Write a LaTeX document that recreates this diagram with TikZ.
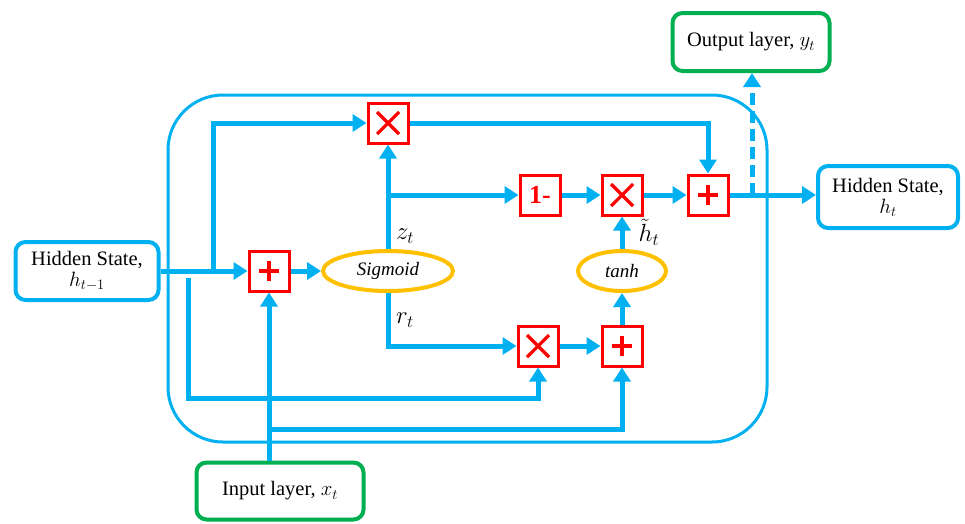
\documentclass[tikz,border=0pt]{standalone}
\usepackage{fontspec}
\setmainfont{Liberation Serif}
\usetikzlibrary{arrows.meta,shapes.geometric,calc}
\definecolor{cblue}{RGB}{0,176,240}
\definecolor{cred}{RGB}{255,0,0}
\definecolor{cgreen}{RGB}{0,176,80}
\definecolor{cyel}{RGB}{255,192,0}
\begin{document}
\begin{tikzpicture}[x=1pt,y=-1pt,
  txt/.style={font=\fontsize{20.5}{23}\selectfont},
  bluebox/.style={txt,draw=cblue,line width=4pt,rounded corners=10pt,fill=white,align=center,inner sep=0pt},
  greenbox/.style={txt,draw=cgreen,line width=4pt,rounded corners=10pt,fill=white,align=center,inner sep=0pt},
  opbox/.style={draw=cred,line width=3pt,minimum size=40pt,inner sep=0pt,fill=white},
  plusop/.style={opbox,path picture={
     \draw[cred,line width=4pt] ([xshift=-10pt]path picture bounding box.center) -- ([xshift=10pt]path picture bounding box.center)
       ([yshift=-10pt]path picture bounding box.center) -- ([yshift=10pt]path picture bounding box.center);}},
  timesop/.style={opbox,path picture={
     \draw[cred,line width=3.2pt] ([shift={(-11pt,-11pt)}]path picture bounding box.center) -- ([shift={(11pt,11pt)}]path picture bounding box.center)
       ([shift={(-11pt,11pt)}]path picture bounding box.center) -- ([shift={(11pt,-11pt)}]path picture bounding box.center);}},
  actell/.style={ellipse,draw=cyel,line width=4pt,fill=white,minimum height=40pt,inner sep=0pt,font=\fontsize{19}{22}\selectfont\itshape},
  conn/.style={cblue,line width=5pt,-{Triangle[width=17pt,length=14pt]}},
  lbl/.style={font=\fontsize{24}{26}\selectfont,inner sep=0pt}
]
\useasboundingbox (0,0) rectangle (965,523);

% outer cell
\draw[cblue,line width=3pt,rounded corners=55pt] (168,95) rectangle (767,442);

% nodes
\node[bluebox,minimum width=143pt,minimum height=58pt] (hprev) at (87,271) {Hidden State,\\[-2pt]$h_{t-1}$};
\node[bluebox,minimum width=140pt,minimum height=62pt] (hout) at (888,197) {Hidden State,\\[-2pt]$h_{t}$};
\node[greenbox,minimum width=157pt,minimum height=58pt] (out) at (751,42) {Output layer, $y_t$};
\node[greenbox,minimum width=167pt,minimum height=57pt] (inp) at (280,491) {Input layer, $x_t$};

\node[plusop] (p1) at (269,271) {};
\node[actell,minimum width=130pt] (sig) at (388,271) {Sigmoid};
\node[actell,minimum width=88pt] (tanh) at (622,271) {tanh};
\node[timesop] (mtop) at (388,123) {};
\node[opbox] (om) at (540,195) {\textcolor{cred}{\fontsize{26}{26}\selectfont\bfseries 1-}};
\node[timesop] (mm) at (622,195) {};
\node[plusop] (pout) at (708,195) {};
\node[timesop] (mb) at (538,346) {};
\node[plusop] (pb) at (622,346) {};

% branch coordinates
\coordinate (b1) at (213,271);
\coordinate (b2) at (188,278);
\coordinate (c1) at (188,398);
\coordinate (c2) at (270,429);
\coordinate (b3) at (388,195);
\coordinate (b4) at (752,195);

% connectors
\draw[conn] (hprev.east |- p1) -- (p1.west);
\draw[conn] (b1) |- (mtop.west);
\draw[conn] (b2) -- (c1) -| (mb.south);
\draw[conn] (inp.north -| p1) -- (p1.south);
\draw[conn] (c2) -| (pb.south);
\draw[conn] (p1.east) -- (sig.west);
\draw[conn] (sig.north) -- (mtop.south);
\draw[conn] (b3) -- (om.west);
\draw[conn] (sig.south) |- (mb.west);
\draw[conn] (mb.east) -- (pb.west);
\draw[conn] (pb.north) -- (tanh.south);
\draw[conn] (tanh.north) -- (mm.south);
\draw[conn] (om.east) -- (mm.west);
\draw[conn] (mm.east) -- (pout.west);
\draw[conn] (mtop.east) -| (pout.north);
\draw[conn] (pout.east) -- (pout.east -| hout.west);
\draw[conn,dash pattern=on 12pt off 6pt] (b4) -- (b4 |- out.south);

% labels
\node[lbl] (lz) at (405,236) {$z_t$};
\node[lbl] (lr) at (405,320) {$r_t$};
\node[lbl] (lh) at (649,232) {$\tilde{h}_t$};
\end{tikzpicture}
\end{document}
